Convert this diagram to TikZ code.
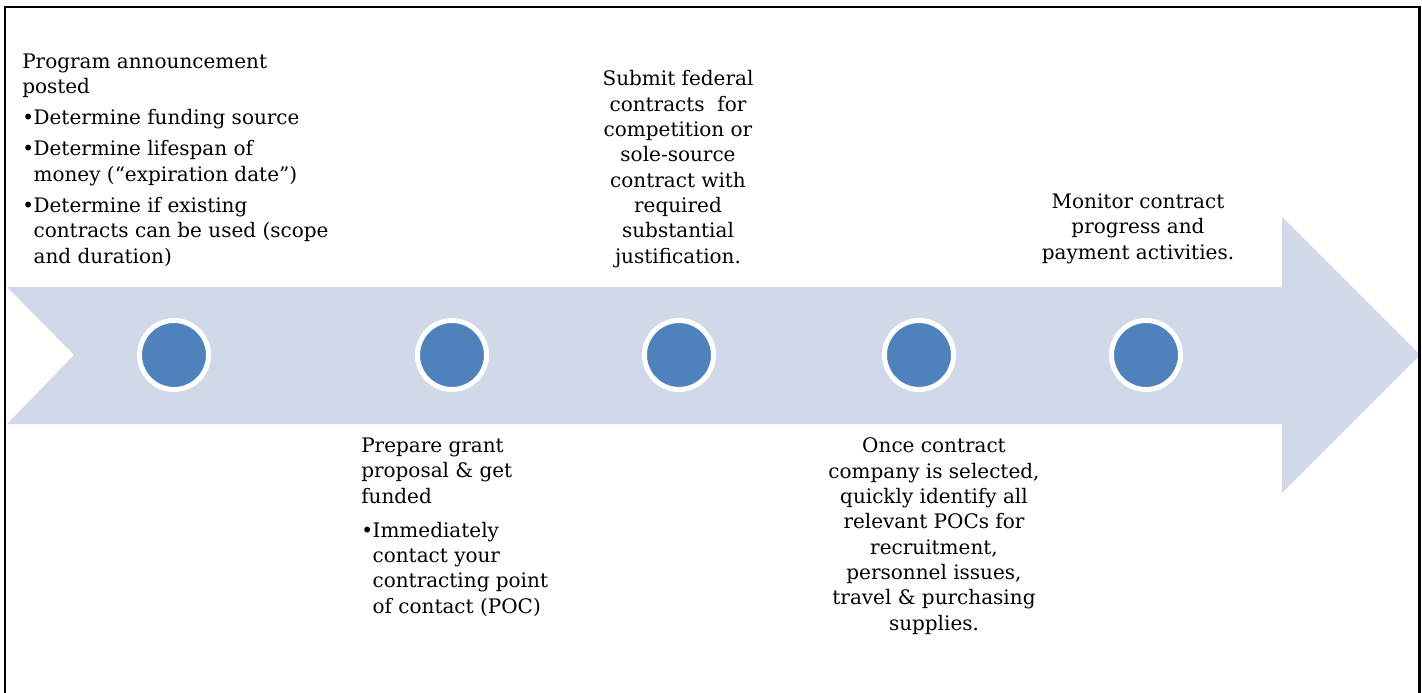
\documentclass[tikz,border=0pt]{standalone}
\usepackage{fontspec}
\setmainfont{DejaVu Serif}
\usepackage{xcolor}
\usepackage{tikz}
\definecolor{bandblue}{HTML}{D1D9E8}
\definecolor{dotblue}{HTML}{4F81BD}
\newcommand{\stepbullet}{\makebox[8.5pt][l]{\textbullet}}
\newcommand{\stepindent}{\hspace*{8.5pt}}

\begin{document}
\begin{tikzpicture}[x=0.75pt,y=-0.75pt,
    dot/.style={circle,fill=dotblue,draw=white,line width=3.75pt,minimum size=51.75pt,inner sep=0pt},
    steptext/.style={inner sep=0pt,font=\fontsize{15pt}{19pt}\selectfont}]
  \useasboundingbox (0,0) rectangle (1422,693);

  % the big arrow
  \fill[bandblue] (7,287) -- (1282,287) -- (1282,217) -- (1420,355) -- (1282,493)
    -- (1282,424) -- (7,424) -- (74,355) -- cycle;

  % frame
  \draw[line width=2.2pt] (5,720) -- (5,7) -- (1419.5,7) -- (1419.5,720);

  % dots on the arrow
  \node[dot] (d1) at (174,355) {};
  \node[dot] (d2) at (452,355) {};
  \node[dot] (d3) at (679,355) {};
  \node[dot] (d4) at (919,355) {};
  \node[dot] (d5) at (1146,355) {};

  % step texts (base = last line)
  \node[steptext,anchor=base west,align=left] (s1) at (22,263) {Program announcement\\
    posted\\[4.3pt]
    \stepbullet Determine funding source\\[4.3pt]
    \stepbullet Determine lifespan of\\
    \stepindent money (“expiration date”)\\[4.3pt]
    \stepbullet Determine if existing\\
    \stepindent contracts can be used (scope\\
    \stepindent and duration)};
  \node[steptext,anchor=base west,align=left] (s2) at (361,613) {Prepare grant\\
    proposal \& get\\
    funded\\[6.5pt]
    \stepbullet Immediately\\
    \stepindent contact your\\
    \stepindent contracting point\\
    \stepindent of contact (POC)};
  \node[steptext,anchor=base,align=center] (s3) at (678,263) {Submit federal\\
    contracts\ \ for\\
    competition or\\
    sole-source\\
    contract with\\
    required\\
    substantial\\
    justification.};
  \node[steptext,anchor=base,align=center] (s4) at (934,630) {Once contract\\
    company is selected,\\
    quickly identify all\\
    relevant POCs for\\
    recruitment,\\
    personnel issues,\\
    travel \& purchasing\\
    supplies.};
  \node[steptext,anchor=base,align=center] (s5) at (1138,259) {Monitor contract\\
    progress and\\
    payment activities.};
\end{tikzpicture}
\end{document}
